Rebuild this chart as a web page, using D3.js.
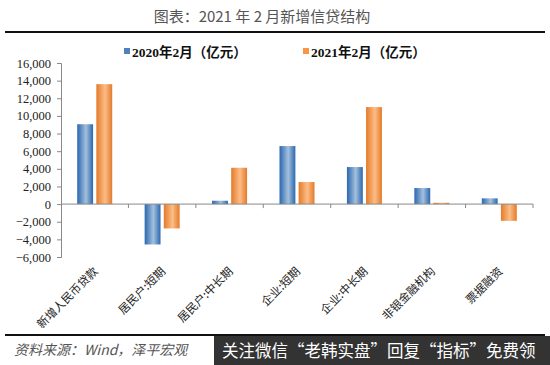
<!DOCTYPE html>
<html>
<head>
<meta charset="utf-8">
<script src="https://cdn.jsdelivr.net/npm/d3@7"></script>
<style>
  body { margin: 0; background: #fff; }
  svg { display: block; }
</style>
</head>
<body>
<div id="chart"></div>
<script>
// data
let categories = ["新增人民币贷款", "居民户:短期", "居民户:中长期", "企业:短期", "企业:中长期", "非银金融机构", "票据融资"];
let seriesNames = ["2020年2月（亿元）", "2021年2月（亿元）"];
let values2020 = [9057, -4580, 380, 6580, 4200, 1820, 650];
let values2021 = [13600, -2760, 4120, 2500, 11000, 150, -1900];
let yTicks = [-6000, -4000, -2000, 0, 2000, 4000, 6000, 8000, 10000, 12000, 14000, 16000];

let svgWidth = 550, svgHeight = 365;
let svg = d3.select("#chart").append("svg")
    .attr("width", svgWidth)
    .attr("height", svgHeight);

// gradients for the bars
let defs = svg.append("defs");
function grad(id, edge, mid) {
    let g = defs.append("linearGradient").attr("id", id)
        .attr("x1", "0%").attr("x2", "100%").attr("y1", "0%").attr("y2", "0%");
    g.append("stop").attr("offset", "0%").attr("stop-color", edge);
    g.append("stop").attr("offset", "55%").attr("stop-color", mid);
    g.append("stop").attr("offset", "100%").attr("stop-color", edge);
}
grad("gBlue", "#2a67b0", "#a4c0dc");
grad("gOrange", "#e47a2a", "#fcbd86");
let fills = ["url(#gBlue)", "url(#gOrange)"];
let legendColors = ["#4f81bd", "#f79646"];

// title + rule
svg.append("text")
    .attr("x", 262).attr("y", 22)
    .attr("text-anchor", "middle")
    .style("font-family", "'Noto Sans CJK SC', 'Liberation Serif', serif")
    .style("font-size", "15px")
    .style("fill", "#555")
    .text("图表：2021 年 2 月新增信贷结构");
svg.append("line")
    .attr("x1", 5).attr("x2", 545).attr("y1", 32).attr("y2", 32)
    .attr("stroke", "#111").attr("stroke-width", 2);

// scales
let xScale = d3.scaleBand()
    .domain(categories)
    .range([61, 533])
    .padding(0);
let bw = xScale.bandwidth();
let x1 = d3.scaleBand()
    .domain([0, 1])
    .range([bw / 2 - 17.5, bw / 2 + 17.5])
    .paddingInner(0.17);
let yScale = d3.scaleLinear()
    .domain([-6000, 16000])
    .range([257, 63]);

// y axis
let yAxis = d3.axisLeft(yScale)
    .tickValues(yTicks)
    .tickSize(4)
    .tickFormat(d3.format(","));
let yG = svg.append("g")
    .attr("transform", "translate(61,0)")
    .call(yAxis);
yG.selectAll("path, line").attr("stroke", "#888");
yG.selectAll("text")
    .style("font-family", "'Liberation Serif', 'Times New Roman', serif")
    .style("font-size", "12.5px")
    .style("fill", "#222")
    .attr("x", -10);

// bars
let data = categories.map((c, i) => ({ cat: c, vals: [values2020[i], values2021[i]] }));
let groups = svg.selectAll(".grp")
    .data(data)
    .enter()
    .append("g")
    .attr("transform", d => `translate(${xScale(d.cat)},0)`);
groups.selectAll("rect")
    .data(d => d.vals.map((v, s) => ({ v: v, s: s })))
    .enter()
    .append("rect")
    .attr("x", d => x1(d.s))
    .attr("width", x1.bandwidth())
    .attr("y", d => yScale(Math.max(0, d.v)))
    .attr("height", d => Math.abs(yScale(d.v) - yScale(0)))
    .attr("fill", d => fills[d.s]);

// x axis at zero with ticks at category boundaries
let xAxisG = svg.append("g");
xAxisG.append("line")
    .attr("x1", 61).attr("x2", 533)
    .attr("y1", yScale(0)).attr("y2", yScale(0))
    .attr("stroke", "#888");
let bounds = categories.map(c => xScale(c) + bw);
xAxisG.selectAll(".xt")
    .data(bounds)
    .enter()
    .append("line")
    .attr("x1", d => d).attr("x2", d => d)
    .attr("y1", yScale(0)).attr("y2", yScale(0) + 4)
    .attr("stroke", "#888");

// category labels
svg.selectAll(".catlab")
    .data(categories)
    .enter()
    .append("text")
    .attr("text-anchor", "end")
    .attr("transform", d => `translate(${xScale(d) + bw / 2 + 4},272) rotate(-45)`)
    .style("font-family", "'Noto Sans CJK SC', sans-serif")
    .style("font-size", "11.5px")
    .style("fill", "#222")
    .text(d => d);

// legend
let legendX = [124, 303];
seriesNames.forEach((name, i) => {
    svg.append("rect")
        .attr("x", legendX[i]).attr("y", 48)
        .attr("width", 6).attr("height", 6)
        .attr("fill", legendColors[i]);
    svg.append("text")
        .attr("x", legendX[i] + 8).attr("y", 57)
        .style("font-family", "'Liberation Serif', 'Noto Sans CJK SC', serif")
        .style("font-size", "13.5px")
        .style("font-weight", "bold")
        .style("fill", "#111")
        .text(name);
});

// footer
svg.append("line")
    .attr("x1", 5).attr("x2", 545).attr("y1", 335).attr("y2", 335)
    .attr("stroke", "#111").attr("stroke-width", 2);
svg.append("text")
    .attr("x", 14).attr("y", 355)
    .style("font-family", "'Noto Sans CJK SC', sans-serif")
    .style("font-size", "14px")
    .style("font-style", "italic")
    .style("fill", "#555")
    .text("资料来源：Wind，泽平宏观");
svg.append("rect")
    .attr("x", 214).attr("y", 336)
    .attr("width", 336).attr("height", 29)
    .attr("fill", "#333");
svg.append("text")
    .attr("x", 222).attr("y", 357)
    .style("font-family", "'Noto Sans CJK SC', sans-serif")
    .style("font-size", "16.5px")
    .style("fill", "#fff")
    .text("关注微信“老韩实盘”回复“指标”免费领");
</script>
</body>
</html>
